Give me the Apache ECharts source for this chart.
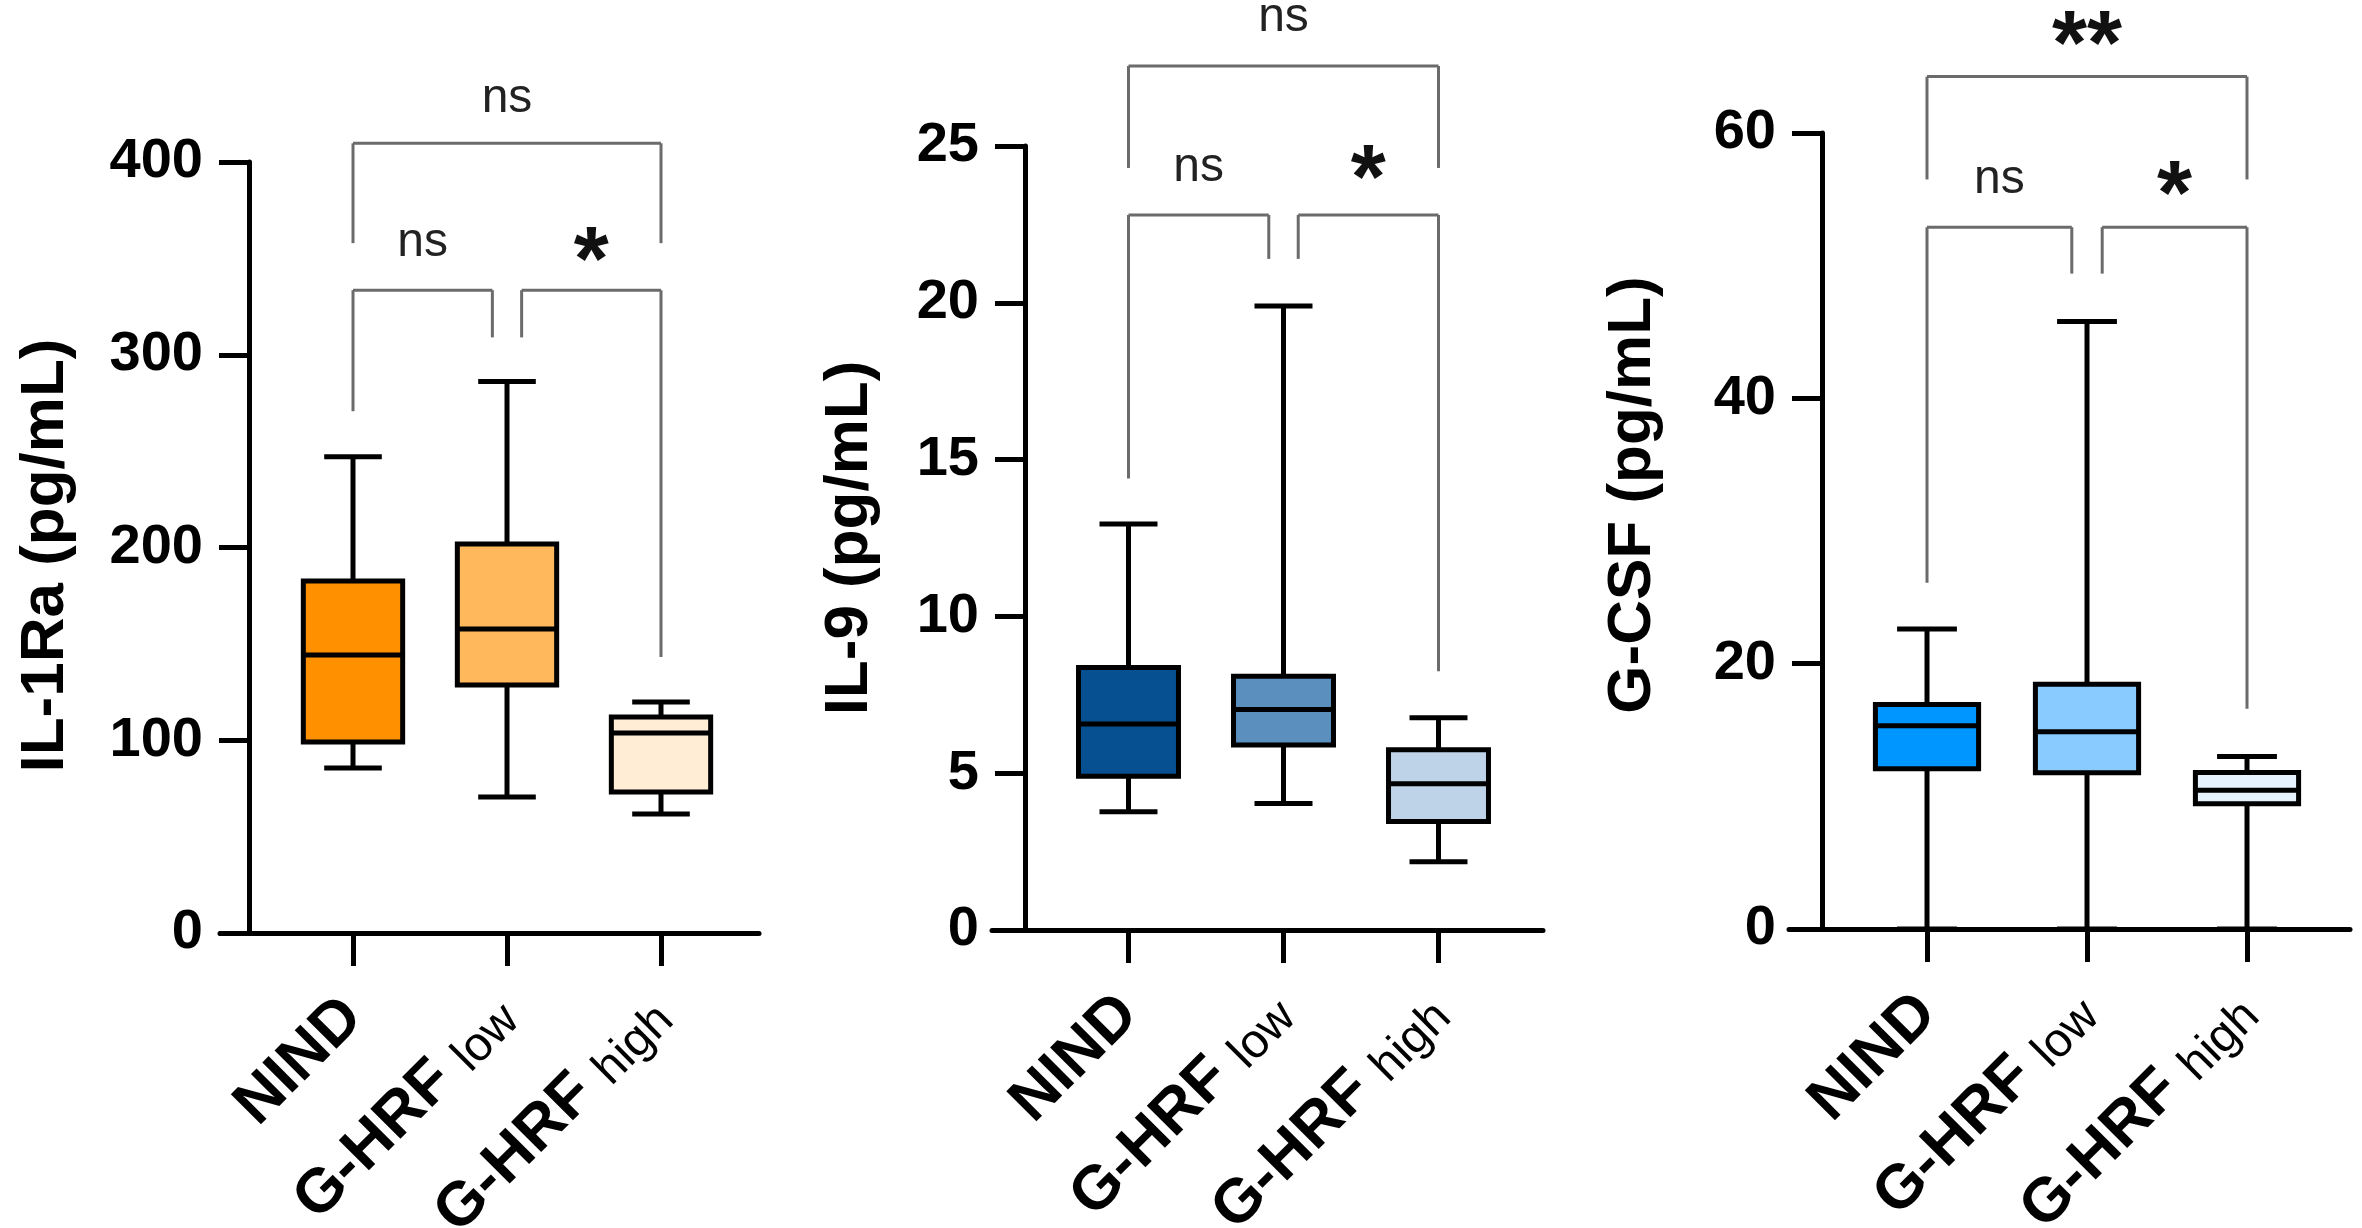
<!DOCTYPE html>
<html>
<head>
<meta charset="utf-8">
<script src="https://cdn.jsdelivr.net/npm/echarts@6/dist/echarts.min.js"></script>
<style>
  html, body { margin: 0; padding: 0; background: #fff; }
  #chart { width: 2362px; height: 1228px; }
</style>
</head>
<body>
<div id="chart"></div>
<script>
const FONT = "'Liberation Sans', Arial, Helvetica, sans-serif";

const categories = ["NIND", "G-HRF low", "G-HRF high"];

// [min, Q1, median, Q3, max]
const il1raStats = [
  [85.6, 99.1, 144.2, 182.6, 247.1],
  [70.5, 128.6, 157.7, 201.8, 286.1],
  [61.7, 73.1, 103.7, 112, 119.8],
];
const il9Stats = [
  [3.77, 4.9, 6.57, 8.37, 12.95],
  [4.03, 5.9, 7.03, 8.09, 19.9],
  [2.18, 3.46, 4.66, 5.75, 6.77],
];
const gcsfStats = [
  [0, 12.08, 15.32, 16.92, 22.62],
  [0, 11.78, 14.86, 18.44, 45.8],
  [0, 9.45, 10.45, 11.8, 13.0],
];

const il1raColors = ["#ff9000", "#ffb85c", "#ffedd6"];
const il9Colors = ["#064f91", "#5a8fbe", "#bed3e8"];
const gcsfColors = ["#0096ff", "#8acbff", "#e6f3ff"];

// significance brackets
const pairs = [[0, 1], [1, 2], [0, 2]];

const il1raBarY = [333.5, 333.5, 409.7];
const il1raLegEnds = [[270.7, 309], [309, 143.2], [357.9, 357.9]];
const il1raMarks = ["ns", "*", "ns"];
const il1raMarkY = [358, 356, 433];

const il9BarY = [22.8, 22.8, 27.55];
const il9LegEnds = [[14.4, 21.4], [21.4, 8.25], [24.3, 24.3]];
const il9Marks = ["ns", "*", "ns"];
const il9MarkY = [24.3, 24.4, 29.1];

const gcsfBarY = [52.9, 52.9, 64.25];
const gcsfLegEnds = [[26.1, 49.4], [49.4, 16.6], [56.5, 56.5]];
const gcsfMarks = ["ns", "*", "**"];
const gcsfMarkY = [56.5, 56.4, 67.7];

const yMax = [400, 25, 60];
const yInterval = [100, 5, 20];
const yNames = ["IL-1Ra (pg/mL)", "IL-9 (pg/mL)", "G-CSF (pg/mL)"];

const panels = [
  { stats: il1raStats, colors: il1raColors, barY: il1raBarY, legs: il1raLegEnds, marks: il1raMarks, markY: il1raMarkY,
    left: 276, width: 462, top: 162, base: 933, axisX: 249, lineLeft: 220, lineRight: 759, nameGap: 172, namePad: [0, 16, 0, 0] },
  { stats: il9Stats, colors: il9Colors, barY: il9BarY, legs: il9LegEnds, marks: il9Marks, markY: il9MarkY,
    left: 1051, width: 465, top: 146, base: 930, axisX: 1025, lineLeft: 992, lineRight: 1543, nameGap: 144, namePad: [0, 0, 0, 0] },
  { stats: gcsfStats, colors: gcsfColors, barY: gcsfBarY, legs: gcsfLegEnds, marks: gcsfMarks, markY: gcsfMarkY,
    left: 1847, width: 480, top: 133, base: 929, axisX: 1822, lineLeft: 1789, lineRight: 2350, nameGap: 158, namePad: [0, 0, 0, 72] },
];

const W = 2362, H = 1228;
const chart = echarts.init(document.getElementById("chart"), null, { renderer: "canvas", width: W, height: H });

const seg = (x1, y1, x2, y2, w, color) => ({
  type: "line",
  shape: { x1, y1, x2, y2 },
  style: { stroke: color || "#000", lineWidth: w || 5 },
});

const makeBoxRender = (colors) => (params, api) => {
  const i = api.value(0);
  const lo = api.coord([i, api.value(1)]);
  const q1 = api.coord([i, api.value(2)]);
  const md = api.coord([i, api.value(3)]);
  const q3 = api.coord([i, api.value(4)]);
  const hi = api.coord([i, api.value(5)]);
  const bw = api.size([1, 0])[0] * 0.645;
  const cw = bw * 0.58;
  const x = lo[0];
  return {
    type: "group",
    children: [
      seg(x, hi[1], x, q3[1]),
      seg(x, q1[1], x, lo[1]),
      seg(x - cw / 2, hi[1], x + cw / 2, hi[1]),
      seg(x - cw / 2, lo[1], x + cw / 2, lo[1]),
      {
        type: "rect",
        shape: { x: x - bw / 2, y: q3[1], width: bw, height: q1[1] - q3[1] },
        style: { fill: colors[i], stroke: "#000", lineWidth: 5 },
      },
      seg(x - bw / 2, md[1], x + bw / 2, md[1]),
    ],
  };
};

const makeBracketRender = (p) => (params, api) => {
  const k = params.dataIndex;
  const a = api.value(0), b = api.value(1);
  const band = api.size([1, 0])[0];
  const gap = band * 0.095;
  const top = api.value(2);
  let xa = api.coord([a, top])[0];
  let xb = api.coord([b, top])[0];
  if (b - a === 1) {
    if (a === 1) xa += gap;
    if (b === 1) xb -= gap;
  }
  const yTop = api.coord([a, top])[1];
  const ya = api.coord([a, api.value(3)])[1];
  const yb = api.coord([b, api.value(4)])[1];
  const mark = p.marks[k];
  const star = mark !== "ns";
  const fs = star ? 90 : 48;
  const my = api.coord([a, p.markY[k]])[1] + (star ? fs * 0.2 : 0);
  const col = "#6b6b6b";
  return {
    type: "group",
    children: [
      seg(xa, ya, xa, yTop, 3, col),
      seg(xa, yTop, xb, yTop, 3, col),
      seg(xb, yTop, xb, yb, 3, col),
      {
        type: "text",
        x: (xa + xb) / 2,
        y: my,
        style: {
          text: mark,
          fontSize: fs,
          fontWeight: star ? "bold" : "normal",
          fontFamily: FONT,
          fill: star ? "#111" : "#222",
          align: "center",
          verticalAlign: "middle",
        },
      },
    ],
  };
};

const grid = [], xAxis = [], yAxis = [], series = [];

panels.forEach((p, n) => {
  const gMain = grid.length;
  grid.push({ left: p.left, width: p.width, top: p.top, height: p.base - p.top, containLabel: false, outerBoundsMode: "none" });
  const gLine = grid.length;
  grid.push({ left: p.lineLeft, width: p.lineRight - p.lineLeft, top: p.top, height: p.base - p.top, containLabel: false, outerBoundsMode: "none" });

  const xMain = xAxis.length;
  xAxis.push({
    type: "category",
    gridIndex: gMain,
    data: categories,
    axisLine: { show: false },
    axisTick: { show: true, alignWithLabel: true, length: 33, lineStyle: { color: "#000", width: 5 } },
    axisLabel: {
      interval: 0,
      rotate: 45,
      margin: 75,
      color: "#000",
      fontSize: 62,
      fontWeight: "bold",
      fontFamily: FONT,
      formatter: (v) => {
        const parts = v.split(" ");
        return parts.length > 1 ? "{b|" + parts[0] + "} {s|" + parts[1] + "}" : "{b|" + v + "}";
      },
      rich: {
        b: { fontSize: 62, fontWeight: "bold", fontFamily: FONT, color: "#000" },
        s: { fontSize: 48, fontWeight: "normal", fontFamily: FONT, color: "#000", verticalAlign: "bottom" },
      },
    },
    splitLine: { show: false },
  });
  xAxis.push({
    type: "value",
    gridIndex: gLine,
    min: 0,
    max: 1,
    axisLine: { show: true, lineStyle: { color: "#000", width: 5 } },
    axisTick: { show: false },
    axisLabel: { show: false },
    splitLine: { show: false },
  });

  const yMain = yAxis.length;
  yAxis.push({
    type: "value",
    gridIndex: gMain,
    min: 0,
    max: yMax[n],
    interval: yInterval[n],
    offset: p.left - p.axisX,
    name: yNames[n],
    nameLocation: "middle",
    nameRotate: 90,
    nameGap: p.nameGap,
    nameTextStyle: { fontSize: 62, fontWeight: "bold", fontFamily: FONT, color: "#000", padding: p.namePad },
    axisLine: { show: true, lineStyle: { color: "#000", width: 5 } },
    axisTick: { show: true, length: 30, lineStyle: { color: "#000", width: 5 } },
    axisLabel: { margin: 46, fontSize: 56, fontWeight: "bold", fontFamily: FONT, color: "#000" },
    splitLine: { show: false },
  });
  yAxis.push({ type: "value", gridIndex: gLine, min: 0, max: 1, show: false });

  series.push({
    type: "custom",
    xAxisIndex: xMain,
    yAxisIndex: yMain,
    clip: false,
    z: 3,
    encode: { x: 0, y: [1, 2, 3, 4, 5] },
    renderItem: makeBoxRender(p.colors),
    data: p.stats.map((s, i) => [i].concat(s)),
  });
  series.push({
    type: "custom",
    xAxisIndex: xMain,
    yAxisIndex: yMain,
    clip: false,
    z: 2,
    encode: { x: [0, 1], y: [2, 3, 4] },
    renderItem: makeBracketRender(p),
    data: pairs.map((pr, k) => [pr[0], pr[1], p.barY[k], p.legs[k][0], p.legs[k][1]]),
  });
});

chart.setOption({
  backgroundColor: "#fff",
  animation: false,
  grid,
  xAxis,
  yAxis,
  series,
});
</script>
</body>
</html>
